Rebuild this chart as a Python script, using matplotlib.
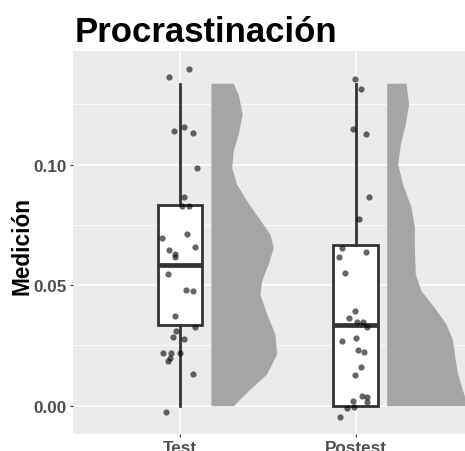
import numpy as np
import matplotlib.pyplot as plt
from matplotlib.ticker import MultipleLocator

plt.rcParams['font.family'] = ['Liberation Sans', 'DejaVu Sans']

# categorias
grupos = ['Test', 'Postest']

# resumen de cajas (q1, mediana, q3, bigote inf, bigote sup)
q1 = [0.0335, 0.0]
mediana = [0.0585, 0.0335]
q3 = [0.0834, 0.0668]
bigote_inf = [0.0, 0.0]
bigote_sup = [0.1335, 0.1335]

# puntos con jitter: desplazamiento horizontal y valor
test_dx = [-0.061, 0.051, -0.032, 0.025, 0.072, 0.099, 0.025, 0.009, 0.053, -0.100,
           0.038, -0.063, -0.028, -0.028, 0.085, -0.068, 0.034, 0.076, -0.028, 0.087,
           -0.024, -0.038, 0.021, -0.095, -0.051, 0.000, -0.057, -0.066, 0.074, -0.081]
test_y = [0.1363, 0.1397, 0.1139, 0.1155, 0.1133, 0.0985, 0.0867, 0.0827, 0.0827, 0.0695,
          0.0714, 0.0646, 0.0629, 0.0616, 0.0657, 0.0546, 0.0480, 0.0476, 0.0371, 0.0328,
          0.0310, 0.0286, 0.0277, 0.0219, 0.0219, 0.0217, 0.0198, 0.0187, 0.0132, -0.0025]
post_dx = [-0.002, 0.028, -0.014, 0.059, 0.074, 0.019, -0.080, -0.095, 0.059, -0.063,
           -0.004, -0.038, 0.006, 0.040, 0.063, -0.080, 0.002, 0.011, 0.047, 0.030,
           -0.004, 0.034, 0.063, 0.066, -0.017, -0.008, -0.050, -0.089]
post_y = [0.1356, 0.1314, 0.1148, 0.1128, 0.0865, 0.0775, 0.0654, 0.0617, 0.0637, 0.0549,
          0.0394, 0.0363, 0.0349, 0.0346, 0.0325, 0.0267, 0.0280, 0.0231, 0.0222, 0.0159,
          0.0129, 0.0039, 0.0035, 0.0017, 0.0018, -0.0004, -0.0010, -0.0048]

# media violin: valor y ancho
test_vy = [0.1338, 0.1293, 0.1210, 0.1127, 0.1058, 0.0989, 0.0920, 0.0851, 0.0782, 0.0712,
           0.0657, 0.0588, 0.0519, 0.0463, 0.0381, 0.0298, 0.0215, 0.0132, 0.0062, 0.0]
test_vw = [0.127, 0.155, 0.178, 0.155, 0.127, 0.118, 0.146, 0.203, 0.269, 0.336,
           0.355, 0.326, 0.289, 0.279, 0.317, 0.364, 0.374, 0.317, 0.212, 0.127]
post_vy = [0.1338, 0.1252, 0.1169, 0.1086, 0.1003, 0.0920, 0.0823, 0.0740, 0.0657, 0.0547,
           0.0477, 0.0408, 0.0339, 0.0270, 0.0187, 0.0132, 0.0062, 0.0]
post_vw = [0.110, 0.125, 0.106, 0.078, 0.063, 0.091, 0.139, 0.158, 0.158, 0.163,
           0.196, 0.271, 0.338, 0.376, 0.391, 0.404, 0.433, 0.460]

fig = plt.figure(figsize=(4.65, 4.52), dpi=100)
ax = fig.add_axes([73 / 465, 17 / 452, 392 / 465, 383 / 452])
ax.set_facecolor('#EBEBEB')

# media violines
for pos, vy, vw in [(1, test_vy, test_vw), (2, post_vy, post_vw)]:
    x0 = pos + 0.176
    ax.fill_betweenx(vy, x0, x0 + np.array(vw), color='#A5A5A5', lw=0, zorder=2)

# cajas
stats = []
for i in range(len(grupos)):
    stats.append({'q1': q1[i], 'med': mediana[i], 'q3': q3[i],
                  'whislo': bigote_inf[i], 'whishi': bigote_sup[i], 'fliers': []})
ax.bxp(stats, positions=[1, 2], widths=0.255, showcaps=False, patch_artist=True,
       boxprops=dict(facecolor='white', edgecolor='#333333', lw=2.0),
       medianprops=dict(color='#333333', lw=3.4, solid_capstyle='butt'),
       whiskerprops=dict(color='#333333', lw=2.0), zorder=3, manage_ticks=False)

# puntos
ax.scatter(1 + np.array(test_dx), test_y, s=20, color='black', alpha=0.6, lw=0, zorder=4)
ax.scatter(2 + np.array(post_dx), post_y, s=20, color='black', alpha=0.6, lw=0, zorder=4)

ax.set_xlim(0.391, 2.622)
ax.set_ylim(-0.01175, 0.1472)
ax.set_xticks([1, 2])
ax.set_xticklabels(grupos)
ax.set_yticks([0, 0.05, 0.10])
ax.set_yticklabels(['0.00', '0.05', '0.10'])
ax.yaxis.set_minor_locator(MultipleLocator(0.025))
ax.grid(True, which='major', color='white', lw=1.1, zorder=0)
ax.grid(True, which='minor', axis='y', color='white', lw=0.55, zorder=0)
ax.set_axisbelow(True)
ax.tick_params(axis='both', which='major', length=2.5, color='#333333', width=0.8,
               labelsize=12.3, labelcolor='#4D4D4D', pad=2)
ax.tick_params(axis='y', which='minor', length=0)
for lab in ax.get_xticklabels() + ax.get_yticklabels():
    lab.set_fontweight('bold')
for s in ax.spines.values():
    s.set_visible(False)

fig.text(22.5 / 465, 1 - 246 / 452, 'Medición', rotation=90, ha='center', va='center',
         fontsize=16.3, fontweight='bold')
fig.text(75 / 465, 1 - 41.7 / 452, 'Procrastinación', ha='left', va='baseline',
         fontsize=25, fontweight='bold')

fig.savefig('out.png', dpi=100)
